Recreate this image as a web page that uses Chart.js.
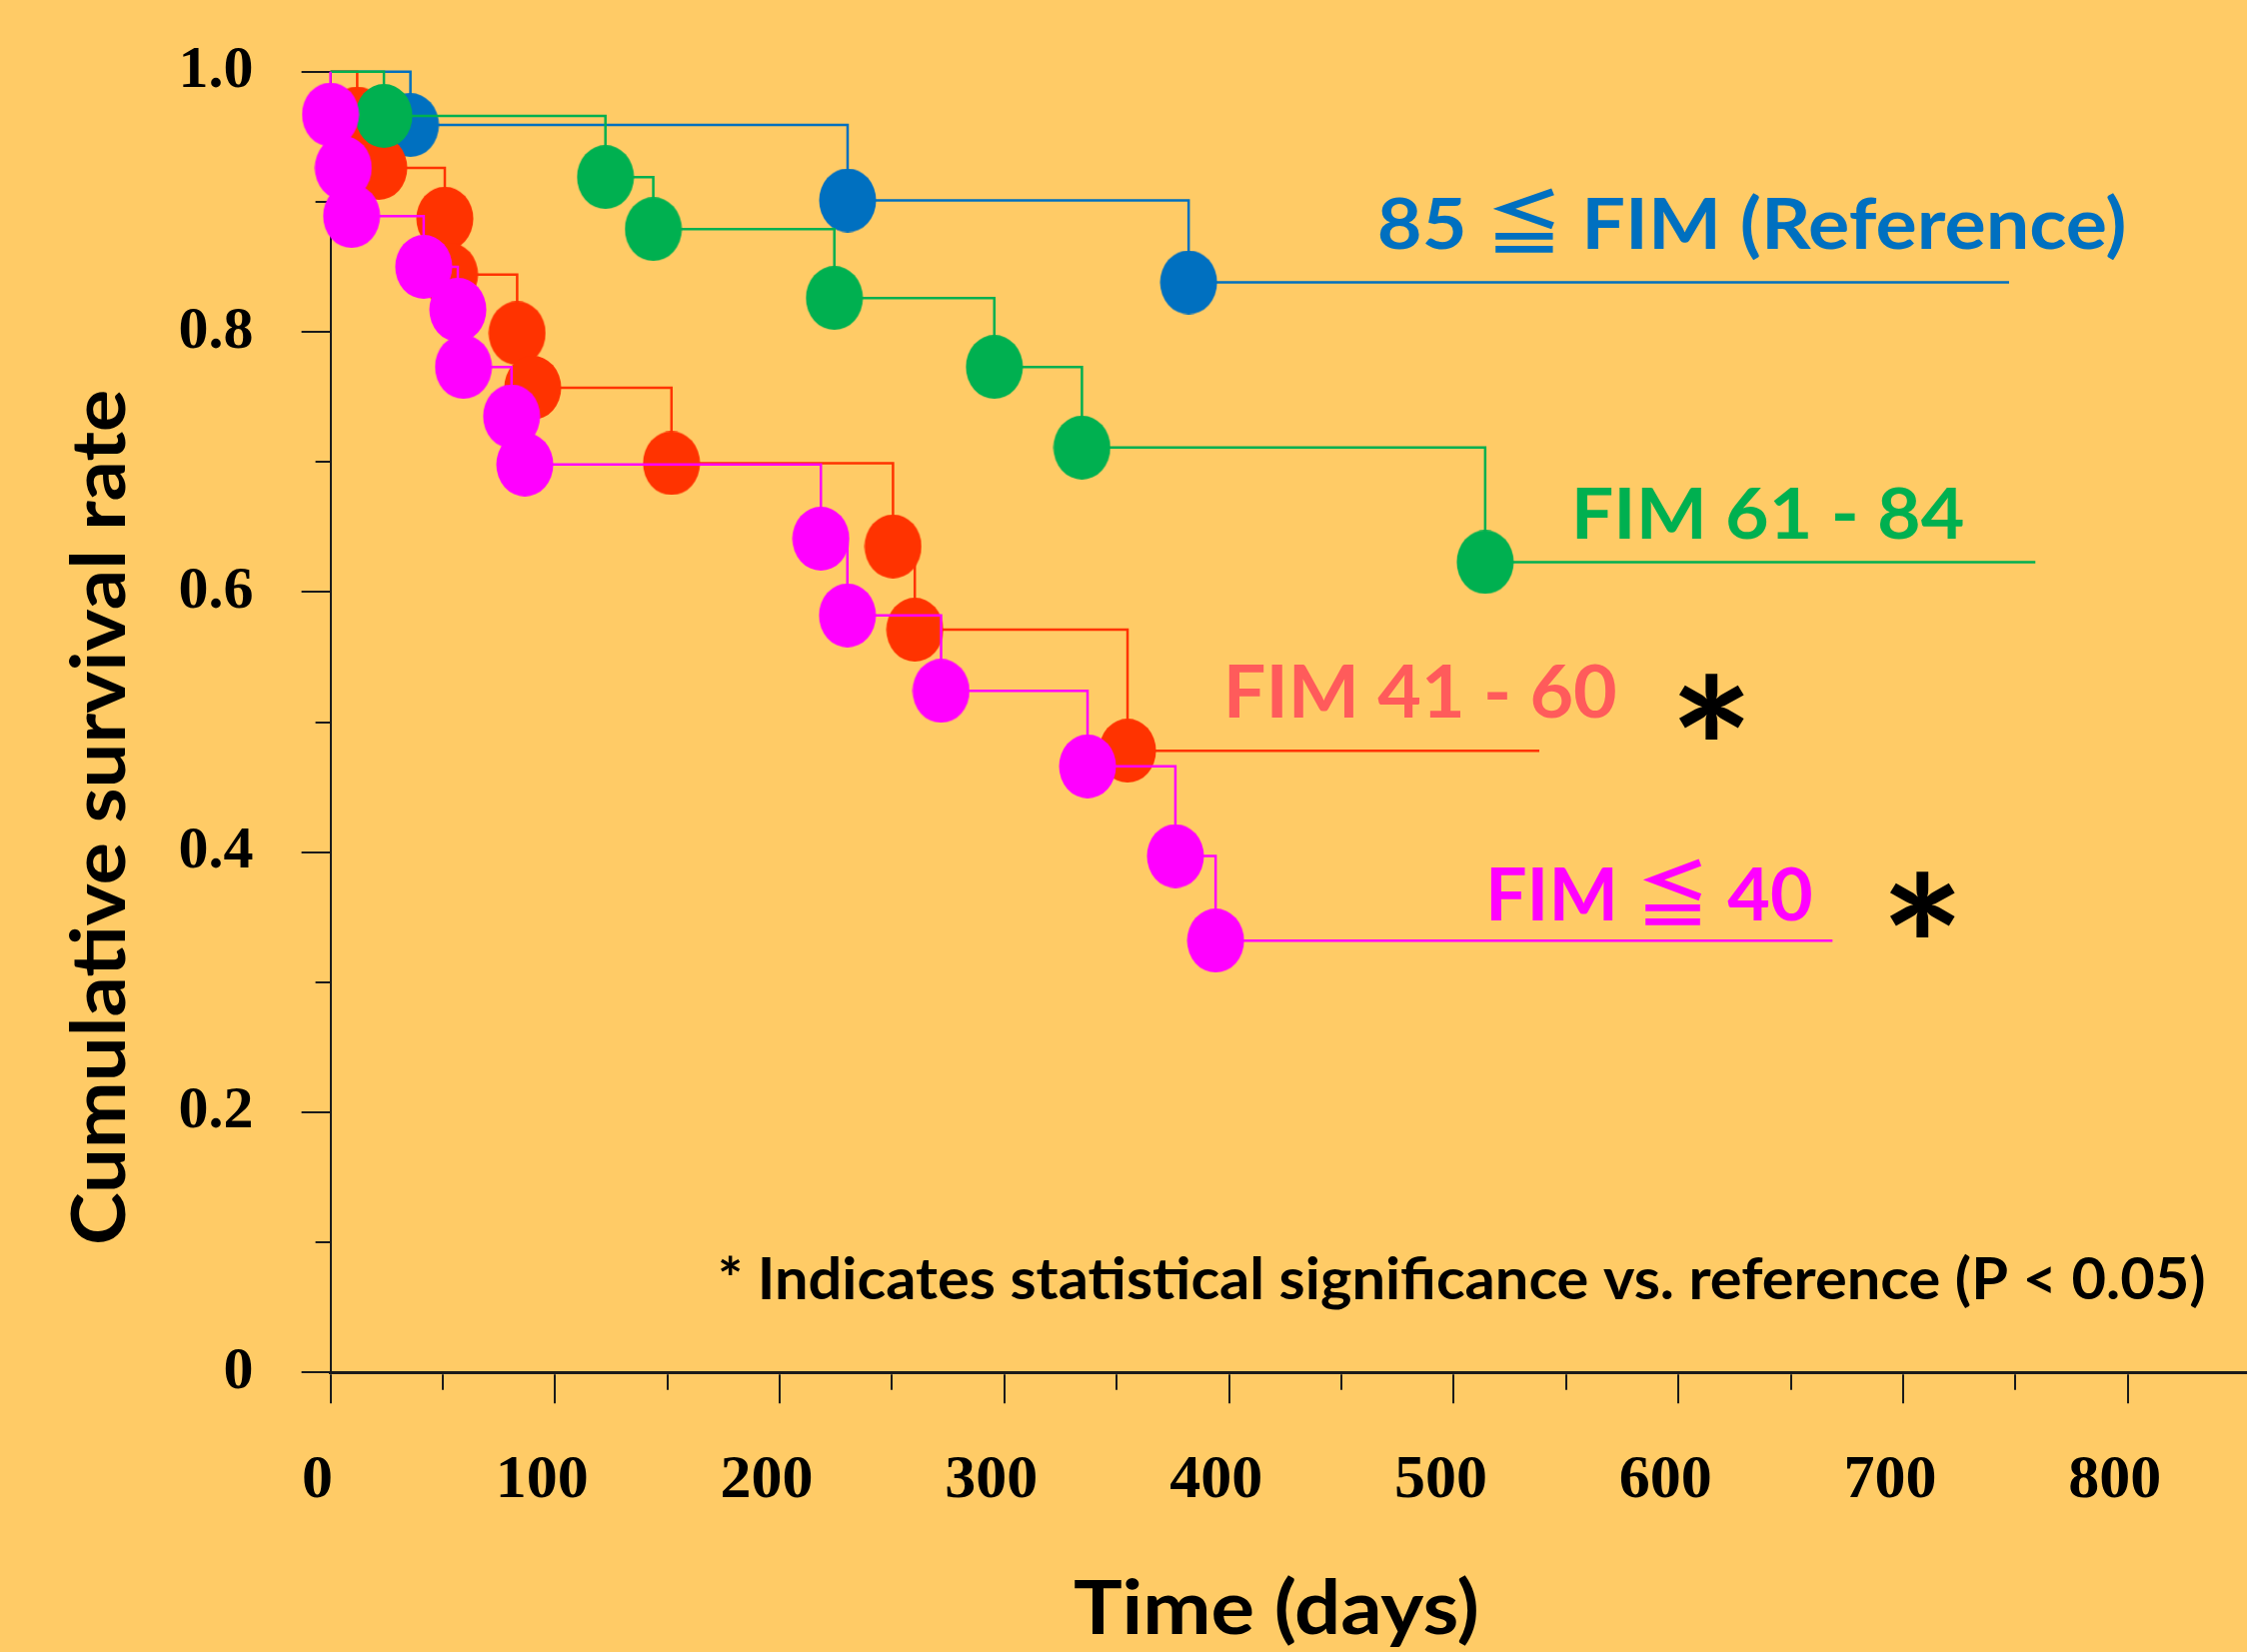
<!DOCTYPE html>
<html>
<head>
<meta charset="utf-8">
<script src="https://cdn.jsdelivr.net/npm/chart.js@4.4.1/dist/chart.umd.min.js"></script>
<style>
html, body { margin: 0; padding: 0; background: #FFCB66; }
canvas { display: block; }
</style>
</head>
<body>
<canvas id="c" width="2248" height="1653"></canvas>
<script>
// ---------------- data ----------------
const groupNames = ['FIM ≦ 40', 'FIM 61 - 84', 'FIM 41 - 60', '85 ≦ FIM (Reference)'];

const magentaDays = [0, 5.7, 9.4, 41.5, 56.7, 59.2, 80.6, 86.5, 218.3, 230.1, 271.8, 337.0, 376.1, 394.0];
const magentaSurv = [0.967, 0.926, 0.889, 0.850, 0.817, 0.773, 0.735, 0.698, 0.641, 0.582, 0.524, 0.466, 0.397, 0.332];
const magentaEnd = 668.6;

const greenDays = [23.8, 122.4, 143.7, 224.3, 295.5, 334.5, 514.0];
const greenSurv = [0.966, 0.919, 0.879, 0.826, 0.773, 0.711, 0.623];
const greenEnd = 758.9;

const redDays = [11.9, 21.5, 50.9, 53.0, 83.1, 90.0, 151.8, 250.4, 260.1, 354.8];
const redSurv = [0.964, 0.926, 0.887, 0.844, 0.799, 0.757, 0.699, 0.635, 0.571, 0.478];
const redEnd = 538.1;

const blueDays = [35.6, 230.2, 382.0];
const blueSurv = [0.959, 0.901, 0.838];
const blueEnd = 747.2;

const xTickLabels = ['0', '100', '200', '300', '400', '500', '600', '700', '800'];
const yTickLabels = ['0', '0.2', '0.4', '0.6', '0.8', '1.0'];

// ---------------- helpers ----------------
function kmPoints(days, surv, endDay) {
  const pts = [{ x: 0, y: 1 }];
  days.forEach((d, i) => pts.push({ x: d, y: surv[i] }));
  pts.push({ x: endDay, y: surv[surv.length - 1] });
  return pts;
}
function makeMarker(color) {
  const c = document.createElement('canvas');
  c.width = 58; c.height = 64;
  const g = c.getContext('2d');
  g.fillStyle = color;
  g.beginPath();
  g.ellipse(29, 32, 28.5, 32, 0, 0, Math.PI * 2);
  g.fill();
  return c;
}
function kmDataset(label, days, surv, endDay, color) {
  const pts = kmPoints(days, surv, endDay);
  const n = pts.length;
  return {
    label: label,
    data: pts,
    stepped: true,
    borderColor: color,
    borderWidth: 2.5,
    backgroundColor: color,
    fill: false,
    clip: false,
    pointStyle: makeMarker(color),
    pointRadius: (ctx) => (ctx.dataIndex === 0 || ctx.dataIndex === n - 1) ? 0 : 28,
    pointHoverRadius: 0
  };
}

const COLORS = { magenta: '#FF00FF', green: '#00B050', red: '#FF3300', blue: '#0070C0' };
const SANS = '"Lato", "Open Sans", "Noto Sans CJK JP", "DejaVu Sans", sans-serif';
const SERIF = '"Liberation Serif", "DejaVu Serif", serif';
const CLEAR = 'rgba(0,0,0,0)';

function drawFitted(ctx, text, o) {
  ctx.save();
  ctx.font = `${o.weight} 100px ${o.family}`;
  const capRef = ctx.measureText('H').actualBoundingBoxAscent;
  const size = 100 * o.cap / capRef;
  ctx.font = `${o.weight} ${size}px ${o.family}`;
  const m = ctx.measureText(text);
  const inkW = m.actualBoundingBoxLeft + m.actualBoundingBoxRight;
  const sx = o.width / inkW;
  ctx.translate(o.x, o.y);
  if (o.rotate) ctx.rotate(-Math.PI / 2);
  ctx.scale(sx, 1);
  ctx.fillStyle = o.color;
  ctx.textAlign = 'left';
  ctx.textBaseline = 'alphabetic';
  ctx.fillText(text, m.actualBoundingBoxLeft, 0);
  ctx.restore();
}
function drawStar(ctx, cx, cy, w, h) {
  ctx.save();
  ctx.font = `bold 100px ${SANS}`;
  let m = ctx.measureText('*');
  const gh = m.actualBoundingBoxAscent + m.actualBoundingBoxDescent;
  const size = 100 * h / gh;
  ctx.font = `bold ${size}px ${SANS}`;
  m = ctx.measureText('*');
  const gw = m.actualBoundingBoxLeft + m.actualBoundingBoxRight;
  const sx = w / gw;
  ctx.translate(cx, cy);
  ctx.scale(sx, 1);
  ctx.fillStyle = '#000';
  ctx.textAlign = 'left';
  ctx.textBaseline = 'alphabetic';
  const ox = -(m.actualBoundingBoxRight - m.actualBoundingBoxLeft) / 2;
  const oy = (m.actualBoundingBoxAscent - m.actualBoundingBoxDescent) / 2;
  ctx.fillText('*', ox, oy);
  ctx.restore();
}

// ---------------- plugins ----------------
const tickMarks = {
  id: 'tickMarks',
  beforeDatasetsDraw(chart) {
    const ctx = chart.ctx;
    const xs = chart.scales.x, ys = chart.scales.y;
    ctx.save();
    ctx.strokeStyle = '#1a1a1a';
    ctx.lineWidth = 2;
    xs.ticks.forEach(t => {
      const v = t.value;
      if (Math.abs(v / 50 - Math.round(v / 50)) > 1e-6) return;
      const major = Math.round(v) % 100 === 0;
      const px = Math.round(xs.getPixelForValue(v));
      ctx.beginPath();
      ctx.moveTo(px, xs.top + 2);
      ctx.lineTo(px, xs.top + (major ? 31 : 17.5));
      ctx.stroke();
    });
    ys.ticks.forEach(t => {
      const k = Math.round(t.value * 10);
      if (Math.abs(t.value * 10 - k) > 1e-6) return;
      const major = k % 2 === 0;
      const py = Math.round(ys.getPixelForValue(t.value));
      ctx.beginPath();
      ctx.moveTo(ys.right, py);
      ctx.lineTo(ys.right - (major ? 29 : 15), py);
      ctx.stroke();
    });
    ctx.restore();
  }
};

const annotations = {
  id: 'annotations',
  afterDraw(chart) {
    const ctx = chart.ctx;
    // group labels
    drawFitted(ctx, groupNames[3], { family: SANS, weight: 'bold', color: COLORS.blue, x: 1380, y: 249, width: 745, cap: 51.5 });
    drawFitted(ctx, groupNames[1], { family: SANS, weight: 'bold', color: COLORS.green, x: 1577, y: 539, width: 387, cap: 52 });
    drawFitted(ctx, groupNames[2], { family: SANS, weight: 'bold', color: '#FF5B5B', x: 1229, y: 717.5, width: 387, cap: 52.5 });
    drawFitted(ctx, groupNames[0], { family: SANS, weight: 'bold', color: COLORS.magenta, x: 1491, y: 920.5, width: 321, cap: 52.5 });
    drawStar(ctx, 1712, 707, 66, 66);
    drawStar(ctx, 1923, 905, 66, 66);
    // footnote
    drawFitted(ctx, '* Indicates statistical significance vs. reference (P < 0.05)',
      { family: SANS, weight: 'bold', color: '#000', x: 720, y: 1300, width: 1485, cap: 41.5 });
    // axis titles
    drawFitted(ctx, 'Time (days)', { family: SANS, weight: 'bold', color: '#000', x: 1075, y: 1635, width: 402, cap: 55 });
    drawFitted(ctx, 'Cumulative survival rate', { family: SANS, weight: 'bold', color: '#000', x: 125, y: 1244, width: 852, cap: 55, rotate: true });
  }
};

// ---------------- chart ----------------
const datasets = [
  kmDataset(groupNames[0], magentaDays, magentaSurv, magentaEnd, COLORS.magenta),
  kmDataset(groupNames[1], greenDays, greenSurv, greenEnd, COLORS.green),
  kmDataset(groupNames[2], redDays, redSurv, redEnd, COLORS.red),
  kmDataset(groupNames[3], blueDays, blueSurv, blueEnd, COLORS.blue)
];

new Chart(document.getElementById('c'), {
  type: 'line',
  data: { datasets: datasets },
  options: {
    responsive: false,
    animation: false,
    devicePixelRatio: 1,
    events: [],
    layout: { padding: { top: 71.7, left: 0, right: 0, bottom: 0 } },
    plugins: { legend: { display: false }, tooltip: { enabled: false }, title: { display: false } },
    scales: {
      x: {
        type: 'linear', position: 'bottom', min: 0, max: 853.1,
        afterFit: (s) => { s.height = 279.7; },
        grid: { display: true, drawOnChartArea: false, drawTicks: true, tickLength: 71, color: CLEAR, tickColor: CLEAR },
        border: { display: true, color: '#1a1a1a', width: 3 },
        ticks: {
          stepSize: 50, autoSkip: false, maxRotation: 0, minRotation: 0,
          padding: 0, labelOffset: -13, color: '#000',
          font: { family: SERIF, size: 62, weight: 'bold' },
          callback: (v) => {
            const k = v / 100;
            return (Math.abs(k - Math.round(k)) < 1e-6 && Math.round(k) < xTickLabels.length) ? xTickLabels[Math.round(k)] : '';
          }
        }
      },
      y: {
        type: 'linear', min: 0, max: 1,
        afterFit: (s) => { s.width = 330.6; },
        grid: { display: true, drawOnChartArea: false, drawTicks: true, tickLength: 77, color: CLEAR, tickColor: CLEAR },
        border: { display: true, color: '#1a1a1a', width: 2 },
        ticks: {
          stepSize: 0.1, autoSkip: false, padding: 0, color: '#000',
          font: { family: SERIF, size: 60, weight: 'bold' },
          callback: (v) => {
            const k = Math.round(v * 10);
            return (k % 2 === 0) ? yTickLabels[k / 2] : '';
          }
        }
      }
    }
  },
  plugins: [tickMarks, annotations]
});
</script>
</body>
</html>
